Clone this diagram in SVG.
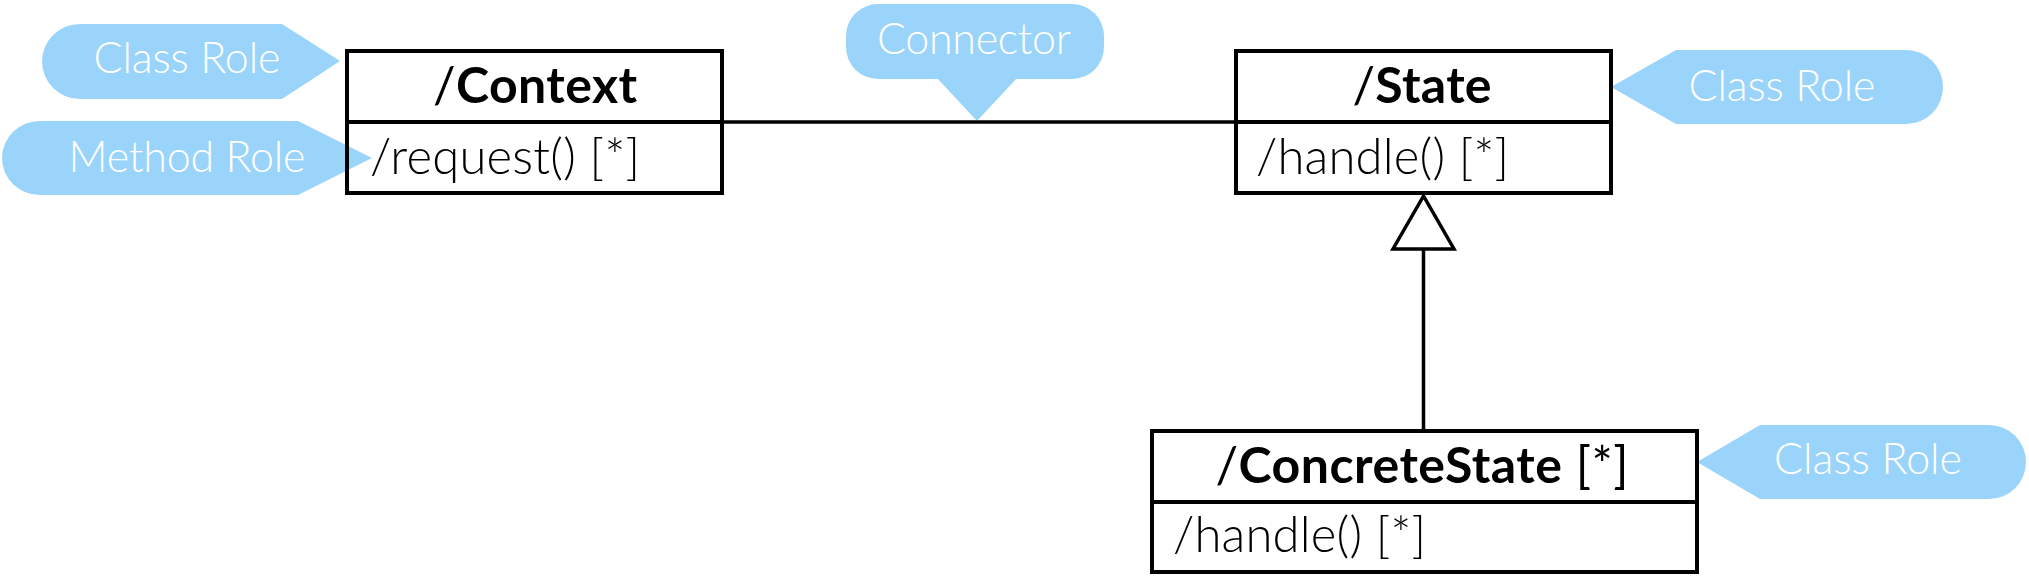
<svg xmlns="http://www.w3.org/2000/svg" width="2029" height="583" viewBox="0 0 2029 583">
<style>
.callout{fill:#9AD4FB;stroke:none}
.ctext{font-family:Lato,"Noto Sans",sans-serif;font-weight:300;font-size:43px;fill:#FFFFFF;text-anchor:middle}
.box{fill:none;stroke:#000;stroke-width:4;stroke-linejoin:miter}
.div{stroke:#000;stroke-width:4}
.title{font-family:Lato,"Noto Sans",sans-serif;font-size:50px;fill:#000;text-anchor:middle}
.title .b{font-weight:700}
.op{font-family:Lato,"Noto Sans",sans-serif;font-weight:300;font-size:49px;fill:#000}
.conn{stroke:#000;stroke-width:3.5;fill:none}
</style>
<rect x="0" y="0" width="2029" height="583" fill="#FFFFFF"/>

<g id="callout-context-class">
<path class="callout" d="M 282 24 L 80 24 A 38 37.5 0 0 0 80 99 L 282 99 L 340 61 Z"/>
<text class="ctext" x="187" y="73" textLength="187" lengthAdjust="spacing">Class Role</text>
</g>
<g id="callout-method">
<path class="callout" d="M 298 121 L 40 121 A 38 37 0 0 0 40 195 L 298 195 L 372 158 Z"/>
<text class="ctext" x="187" y="172" textLength="237" lengthAdjust="spacing">Method Role</text>
</g>
<g id="callout-connector">
<rect class="callout" x="846" y="4" width="258" height="75" rx="32" ry="32"/>
<path class="callout" d="M 937 78 L 977 121 L 1017 78 Z"/>
<text class="ctext" x="974" y="54" textLength="194" lengthAdjust="spacing">Connector</text>
</g>
<g id="callout-state-class">
<path class="callout" d="M 1611 87 L 1676 50 L 1906 50 A 37 37 0 0 1 1906 124 L 1676 124 Z"/>
<text class="ctext" x="1782" y="101" textLength="187" lengthAdjust="spacing">Class Role</text>
</g>
<g id="callout-concrete-class">
<path class="callout" d="M 1697 462 L 1760 425 L 1989 425 A 37 37 0 0 1 1989 499 L 1760 499 Z"/>
<text class="ctext" x="1868" y="474" textLength="188" lengthAdjust="spacing">Class Role</text>
</g>

<g id="connectors">
<line class="conn" x1="722" y1="122" x2="1236" y2="122"/>
<line class="conn" x1="1423.5" y1="430" x2="1423.5" y2="249"/>
<path d="M 1423.5 196 L 1393 249 L 1454 249 Z" fill="#FFFFFF" stroke="#000" stroke-width="3.5" stroke-linejoin="miter"/>
</g>

<g id="node-context">
<rect class="box" x="347" y="51" width="375" height="142"/>
<line class="div" x1="347" y1="122" x2="722" y2="122"/>
<text class="title" x="535" y="103" textLength="204" lengthAdjust="spacing"><tspan>/</tspan><tspan class="b">Context</tspan></text>
<text class="op" x="370" y="174" textLength="270" lengthAdjust="spacing">/request() [*]</text>
</g>

<g id="node-state">
<rect class="box" x="1236" y="51" width="375" height="142"/>
<line class="div" x1="1236" y1="122" x2="1611" y2="122"/>
<text class="title" x="1422" y="103" textLength="139" lengthAdjust="spacing"><tspan>/</tspan><tspan class="b">State</tspan></text>
<text class="op" x="1256" y="174" textLength="253" lengthAdjust="spacing">/handle() [*]</text>
</g>

<g id="node-concrete-state">
<rect class="box" x="1152" y="431" width="545" height="141"/>
<line class="div" x1="1152" y1="502" x2="1697" y2="502"/>
<text class="title" x="1422" y="483" textLength="413" lengthAdjust="spacing"><tspan>/</tspan><tspan class="b">ConcreteState</tspan><tspan> [*]</tspan></text>
<text class="op" x="1173" y="552" textLength="253" lengthAdjust="spacing">/handle() [*]</text>
</g>
</svg>
